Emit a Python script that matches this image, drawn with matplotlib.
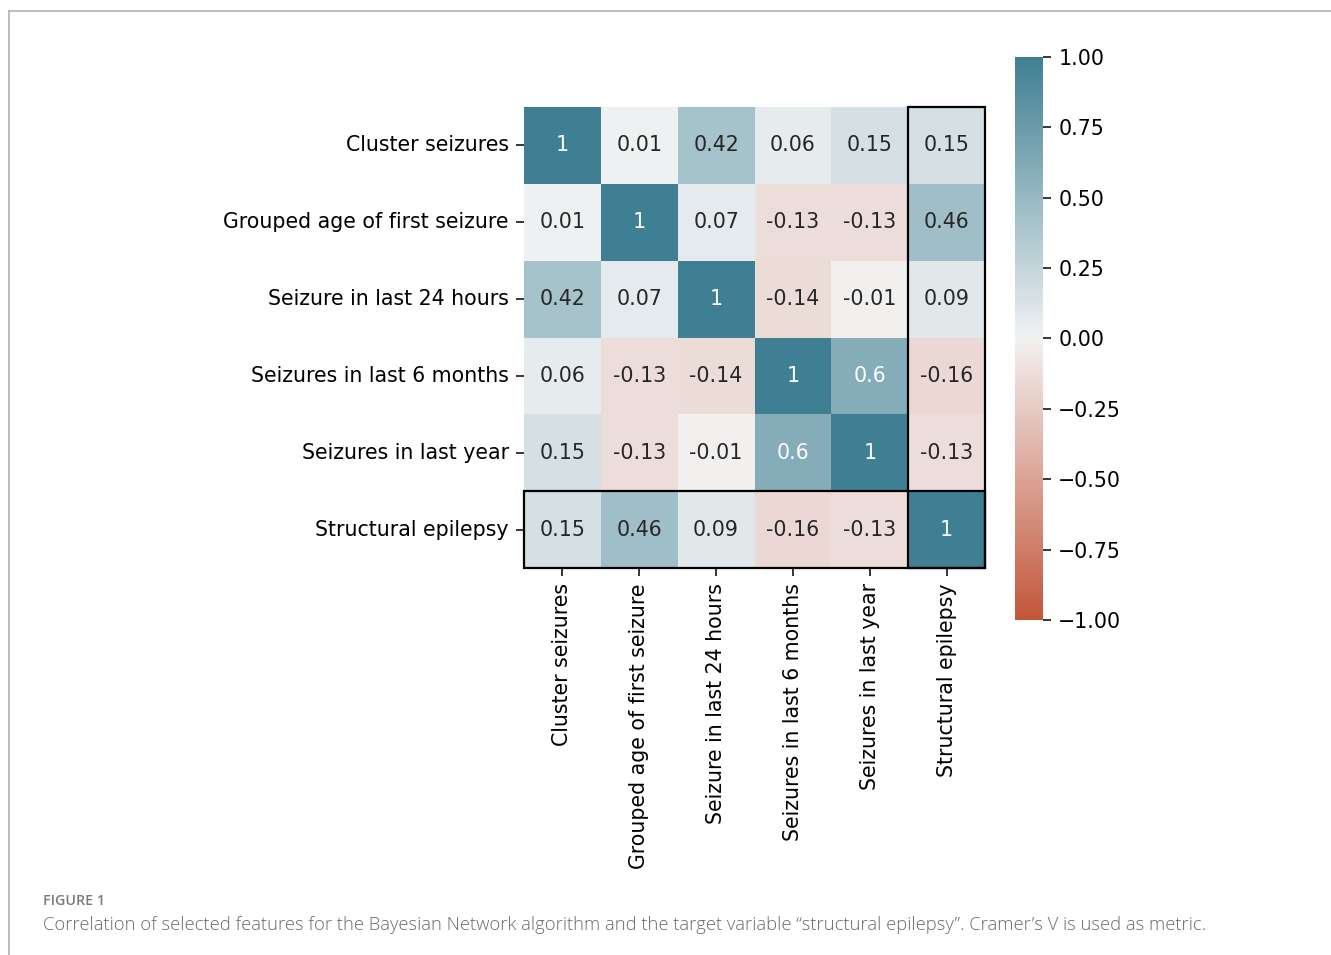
import numpy as np
import pandas as pd
import seaborn as sns
import matplotlib.pyplot as plt
from matplotlib.patches import Rectangle
from matplotlib.lines import Line2D

# Cramer's V matrix between selected features
features = [
    "Cluster seizures",
    "Grouped age of first seizure",
    "Seizure in last 24 hours",
    "Seizures in last 6 months",
    "Seizures in last year",
    "Structural epilepsy",
]
row_cluster = [1, 0.01, 0.42, 0.06, 0.15, 0.15]
row_age = [0.01, 1, 0.07, -0.13, -0.13, 0.46]
row_24h = [0.42, 0.07, 1, -0.14, -0.01, 0.09]
row_6m = [0.06, -0.13, -0.14, 1, 0.6, -0.16]
row_year = [0.15, -0.13, -0.01, 0.6, 1, -0.13]
row_struct = [0.15, 0.46, 0.09, -0.16, -0.13, 1]

cbar_ticks = np.arange(-1, 1.01, 0.25)

corr = pd.DataFrame(
    [row_cluster, row_age, row_24h, row_6m, row_year, row_struct],
    index=features, columns=features,
)

cmap = sns.diverging_palette(20, 220, as_cmap=True)

fig = plt.figure(figsize=(13.31, 9.55), dpi=100)
ax = fig.add_axes([0.3937, 0.4052, 0.3464, 0.4827])
cax = fig.add_axes([0.7626, 0.3508, 0.021, 0.5895])

sns.heatmap(
    corr, ax=ax, cbar_ax=cax, cmap=cmap, vmin=-1, vmax=1,
    annot=True, fmt="g", annot_kws={"fontsize": 14.8},
)
ax.tick_params(labelsize=14.8, length=5.5, width=1.1, pad=5.5)
ax.set_xticklabels(features, rotation=90)
ax.set_yticklabels(features, rotation=0)
cax.tick_params(labelsize=14.8, length=5.5, width=1.1, pad=5.5)
cax.set_yticks(cbar_ticks)
cax.set_yticklabels([f"{t:.2f}".replace("-", "\u2212") for t in cbar_ticks])

# outline the target variable's row and column
n = len(features)
ax.add_patch(Rectangle((n - 1, 0), 1, n, fill=False, edgecolor="black", lw=1.6, clip_on=False))
ax.add_patch(Rectangle((0, n - 1), n, 1, fill=False, edgecolor="black", lw=1.6, clip_on=False))

# page frame
fig.add_artist(Line2D([0.0068, 1.0], [0.9885, 0.9885], color="#b0b0b0", lw=1.2))
fig.add_artist(Line2D([0.0068, 0.0068], [0.0, 0.9885], color="#b0b0b0", lw=1.2))

fig.text(0.0323, 0.0565, "FIGURE 1", fontsize=10.3, color="#7a7a7a",
         fontweight="semibold", family="Open Sans", va="center")
fig.text(0.0323, 0.0315,
         "Correlation of selected features for the Bayesian Network algorithm and the target "
         "variable \u201cstructural epilepsy\u201d. Cramer\u2019s V is used as metric.",
         fontsize=13.2, color="#6a6a6a", family="Open Sans", fontweight="light",
         va="center")

fig.savefig("out.png", dpi=100)
